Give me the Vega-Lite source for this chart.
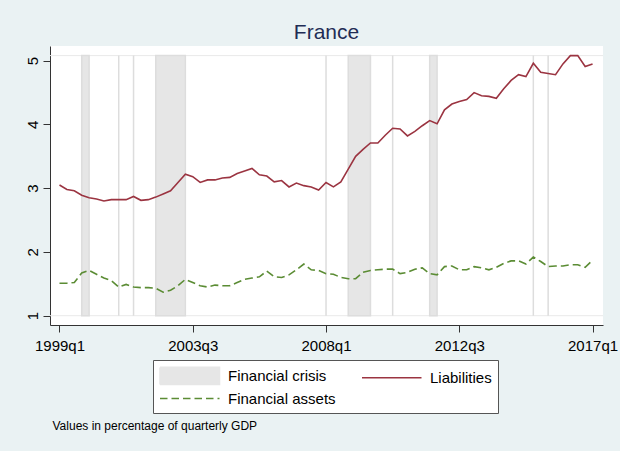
{
  "$schema": "https://vega.github.io/schema/vega-lite/v6.json",
  "width": 553,
  "height": 279,
  "autosize": {"type": "none"},
  "padding": {"left": 50, "top": 46, "right": 17, "bottom": 126},
  "background": "#EAF2F3",
  "title": {"text": "France", "fontSize": 21, "font": "Liberation Sans", "fontWeight": "normal", "color": "#1F2D55", "anchor": "middle", "frame": "group", "offset": 3},
  "config": {
    "view": {"fill": "white", "stroke": null},
    "axis": {"labelFont": "Liberation Sans", "labelFontSize": 15, "labelColor": "#000000", "domainColor": "#333333", "tickColor": "#333333", "tickSize": 7, "grid": false, "titleFont": "Liberation Sans", "labelFlush": false}
  },
  "datasets": {
    "levels": [{"level": 1}, {"level": 5.08}],
    "crises": [
      {"t": 3, "t2": 4}, {"t": 8, "t2": 8}, {"t": 10, "t2": 10}, {"t": 13, "t2": 17},
      {"t": 36, "t2": 36}, {"t": 39, "t2": 42}, {"t": 45, "t2": 45}, {"t": 50, "t2": 51},
      {"t": 64, "t2": 64}, {"t": 66, "t2": 66}
    ],
    "series": [
      {"t": 0, "liabilities": 3.05, "assets": 1.51},
      {"t": 1, "liabilities": 2.98, "assets": 1.51},
      {"t": 2, "liabilities": 2.96, "assets": 1.52},
      {"t": 3, "liabilities": 2.89, "assets": 1.67},
      {"t": 4, "liabilities": 2.85, "assets": 1.71},
      {"t": 5, "liabilities": 2.83, "assets": 1.65},
      {"t": 6, "liabilities": 2.80, "assets": 1.59},
      {"t": 7, "liabilities": 2.82, "assets": 1.55},
      {"t": 8, "liabilities": 2.82, "assets": 1.45},
      {"t": 9, "liabilities": 2.82, "assets": 1.49},
      {"t": 10, "liabilities": 2.87, "assets": 1.45},
      {"t": 11, "liabilities": 2.81, "assets": 1.44},
      {"t": 12, "liabilities": 2.82, "assets": 1.44},
      {"t": 13, "liabilities": 2.86, "assets": 1.43},
      {"t": 14, "liabilities": 2.91, "assets": 1.37},
      {"t": 15, "liabilities": 2.96, "assets": 1.40},
      {"t": 16, "liabilities": 3.09, "assets": 1.47},
      {"t": 17, "liabilities": 3.22, "assets": 1.57},
      {"t": 18, "liabilities": 3.18, "assets": 1.52},
      {"t": 19, "liabilities": 3.09, "assets": 1.47},
      {"t": 20, "liabilities": 3.13, "assets": 1.45},
      {"t": 21, "liabilities": 3.13, "assets": 1.48},
      {"t": 22, "liabilities": 3.16, "assets": 1.47},
      {"t": 23, "liabilities": 3.17, "assets": 1.47},
      {"t": 24, "liabilities": 3.23, "assets": 1.52},
      {"t": 25, "liabilities": 3.27, "assets": 1.57},
      {"t": 26, "liabilities": 3.31, "assets": 1.59},
      {"t": 27, "liabilities": 3.21, "assets": 1.61},
      {"t": 28, "liabilities": 3.19, "assets": 1.70},
      {"t": 29, "liabilities": 3.10, "assets": 1.61},
      {"t": 30, "liabilities": 3.12, "assets": 1.60},
      {"t": 31, "liabilities": 3.02, "assets": 1.64},
      {"t": 32, "liabilities": 3.08, "assets": 1.72},
      {"t": 33, "liabilities": 3.04, "assets": 1.81},
      {"t": 34, "liabilities": 3.02, "assets": 1.72},
      {"t": 35, "liabilities": 2.97, "assets": 1.71},
      {"t": 36, "liabilities": 3.09, "assets": 1.66},
      {"t": 37, "liabilities": 3.02, "assets": 1.65},
      {"t": 38, "liabilities": 3.10, "assets": 1.60},
      {"t": 39, "liabilities": 3.30, "assets": 1.58},
      {"t": 40, "liabilities": 3.50, "assets": 1.58},
      {"t": 41, "liabilities": 3.61, "assets": 1.68},
      {"t": 42, "liabilities": 3.71, "assets": 1.71},
      {"t": 43, "liabilities": 3.71, "assets": 1.72},
      {"t": 44, "liabilities": 3.83, "assets": 1.73},
      {"t": 45, "liabilities": 3.94, "assets": 1.73},
      {"t": 46, "liabilities": 3.93, "assets": 1.66},
      {"t": 47, "liabilities": 3.82, "assets": 1.68},
      {"t": 48, "liabilities": 3.89, "assets": 1.73},
      {"t": 49, "liabilities": 3.98, "assets": 1.75},
      {"t": 50, "liabilities": 4.06, "assets": 1.66},
      {"t": 51, "liabilities": 4.01, "assets": 1.64},
      {"t": 52, "liabilities": 4.23, "assets": 1.77},
      {"t": 53, "liabilities": 4.32, "assets": 1.78},
      {"t": 54, "liabilities": 4.36, "assets": 1.72},
      {"t": 55, "liabilities": 4.39, "assets": 1.72},
      {"t": 56, "liabilities": 4.50, "assets": 1.77},
      {"t": 57, "liabilities": 4.45, "assets": 1.75},
      {"t": 58, "liabilities": 4.44, "assets": 1.72},
      {"t": 59, "liabilities": 4.41, "assets": 1.76},
      {"t": 60, "liabilities": 4.56, "assets": 1.82},
      {"t": 61, "liabilities": 4.69, "assets": 1.86},
      {"t": 62, "liabilities": 4.78, "assets": 1.86},
      {"t": 63, "liabilities": 4.75, "assets": 1.81},
      {"t": 64, "liabilities": 4.96, "assets": 1.92},
      {"t": 65, "liabilities": 4.82, "assets": 1.85},
      {"t": 66, "liabilities": 4.80, "assets": 1.77},
      {"t": 67, "liabilities": 4.78, "assets": 1.78},
      {"t": 68, "liabilities": 4.95, "assets": 1.78},
      {"t": 69, "liabilities": 5.08, "assets": 1.80},
      {"t": 70, "liabilities": 5.08, "assets": 1.80},
      {"t": 71, "liabilities": 4.91, "assets": 1.76},
      {"t": 72, "liabilities": 4.95, "assets": 1.87}
    ]
  },
  "layer": [
    {
      "data": {"name": "levels"},
      "mark": {"type": "rule", "color": "#E9E9E9", "strokeWidth": 1},
      "encoding": {
        "y": {"field": "level", "type": "quantitative", "scale": {"domain": [0.854, 5.2306], "nice": false, "zero": false},
              "axis": {"title": null, "values": [1, 2, 3, 4, 5], "labelAngle": 270, "labelAlign": "center", "labelBaseline": "alphabetic", "labelPadding": 6}}
      }
    },
    {
      "data": {"name": "crises"},
      "mark": {"type": "rect", "stroke": "#DDDDDD", "strokeWidth": 1.5},
      "encoding": {
        "x": {"field": "t", "type": "quantitative", "scale": {"domain": [-1.283, 73.41], "nice": false, "zero": false},
              "axis": {"title": "Values in percentage of quarterly GDP", "values": [0, 18, 36, 54, 72],
                       "labelExpr": "floor(1999 + datum.value / 4) + 'q' + (datum.value % 4 + 1)",
                       "labelPadding": 6, "titleFontSize": 12, "titleFontWeight": "normal", "titleColor": "#000000",
                       "titleAlign": "left", "titleAnchor": "start", "titleX": 2, "titleY": 104, "titleBaseline": "alphabetic"}},
        "x2": {"field": "t2"},
        "y": {"datum": 1, "type": "quantitative", "axis": {"title": null, "values": [1, 2, 3, 4, 5], "labelAngle": 270, "labelAlign": "center", "labelBaseline": "alphabetic", "labelPadding": 6}},
        "y2": {"datum": 5.08},
        "color": {
          "datum": "Financial crisis", "type": "nominal",
          "scale": {"domain": ["Financial crisis", "Financial assets", "Liabilities"], "range": ["#E6E6E6", "#5B8C34", "#9B3441"]},
          "legend": {
            "title": null, "orient": "none", "legendX": 103, "legendY": 314, "columns": 2,
            "columnPadding": 22, "rowPadding": 1, "padding": 6,
            "strokeColor": "#555555", "fillColor": "#FFFFFF",
            "labelFont": "Liberation Sans", "labelFontSize": 15, "labelColor": "#000000", "labelOffset": 50, "labelLimit": 300,
            "symbolSize": 289, "symbolStrokeWidth": 1.6, "symbolOpacity": 1,
            "symbolType": {"expr": "datum.value === 'Financial crisis' ? 'M-1,-1H6V1H-1Z' : 'M-1,0H6'"},
            "symbolDash": {"expr": "datum.value === 'Financial assets' ? [7.5, 4] : [1, 0]"}
          }
        }
      }
    },
    {
      "data": {"name": "series"},
      "mark": {"type": "line", "strokeWidth": 1.6},
      "encoding": {
        "x": {"field": "t", "type": "quantitative"},
        "y": {"field": "liabilities", "type": "quantitative", "axis": {"title": null, "values": [1, 2, 3, 4, 5], "labelAngle": 270, "labelAlign": "center", "labelBaseline": "alphabetic", "labelPadding": 6}},
        "color": {"datum": "Liabilities", "type": "nominal"}
      }
    },
    {
      "data": {"name": "series"},
      "mark": {"type": "line", "strokeWidth": 1.6, "strokeDash": [8, 4]},
      "encoding": {
        "x": {"field": "t", "type": "quantitative"},
        "y": {"field": "assets", "type": "quantitative", "axis": {"title": null, "values": [1, 2, 3, 4, 5], "labelAngle": 270, "labelAlign": "center", "labelBaseline": "alphabetic", "labelPadding": 6}},
        "color": {"datum": "Financial assets", "type": "nominal"}
      }
    }
  ]
}
